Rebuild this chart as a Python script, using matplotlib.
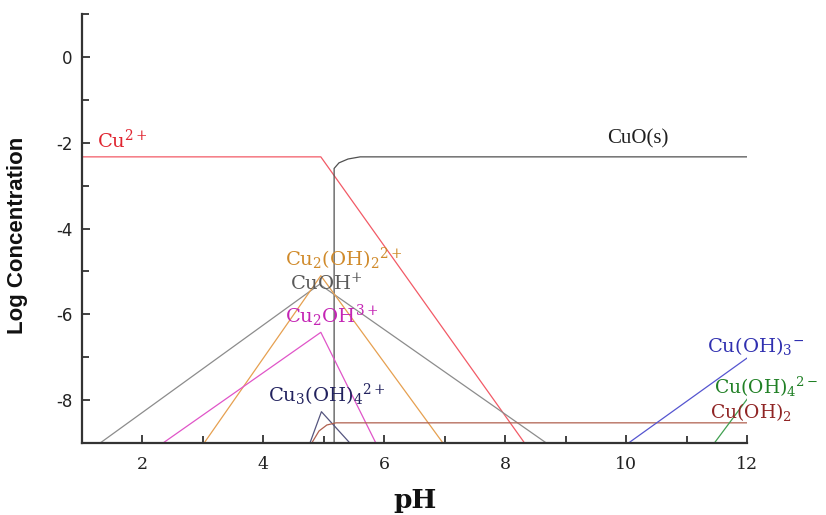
import numpy as np
import matplotlib
matplotlib.use("Agg")
import matplotlib.pyplot as plt
from matplotlib.ticker import MultipleLocator

plt.rcParams["axes.unicode_minus"] = False

# speciation lines, pH break points and log concentration
cu2_ph = [1.0, 4.95, 8.32]
cu2_log = [-2.33, -2.33, -9.0]

cuo_ph = [5.17, 5.17, 5.25, 5.4, 5.6, 12.0]
cuo_log = [-9.0, -2.6, -2.47, -2.38, -2.33, -2.33]

cuoh_ph = [1.3, 4.93, 8.68]
cuoh_log = [-9.0, -5.3, -9.0]

cu2oh2_ph = [3.02, 4.95, 6.97]
cu2oh2_log = [-9.0, -5.1, -9.0]

cu2oh_ph = [2.34, 4.95, 5.86]
cu2oh_log = [-9.0, -6.42, -9.0]

cu3oh4_ph = [4.77, 4.96, 5.43]
cu3oh4_log = [-9.0, -8.27, -9.0]

cuoh2_ph = [4.8, 4.92, 5.05, 5.2, 12.0]
cuoh2_log = [-9.0, -8.72, -8.58, -8.53, -8.53]

cuoh3_ph = [10.04, 12.0]
cuoh3_log = [-9.0, -7.02]

cuoh4_ph = [11.46, 12.0]
cuoh4_log = [-9.0, -7.98]

fig = plt.figure(figsize=(8.26, 5.15), dpi=100)
ax = fig.add_axes([0.0993, 0.1398, 0.8051, 0.833])

lw = 0.9
ax.plot(cu2_ph, cu2_log, color="#f25a66", lw=lw)
ax.plot(cuo_ph, cuo_log, color="#505050", lw=lw)
ax.plot(cuoh_ph, cuoh_log, color="#8c8c8c", lw=lw)
ax.plot(cu2oh2_ph, cu2oh2_log, color="#e6a050", lw=lw)
ax.plot(cu2oh_ph, cu2oh_log, color="#e055c8", lw=lw)
ax.plot(cu3oh4_ph, cu3oh4_log, color="#55557f", lw=lw)
ax.plot(cuoh2_ph, cuoh2_log, color="#b0604f", lw=lw)
ax.plot(cuoh3_ph, cuoh3_log, color="#5555d0", lw=lw)
ax.plot(cuoh4_ph, cuoh4_log, color="#40a050", lw=lw)

# species labels
lab = dict(family="DejaVu Serif", fontsize=14, va="baseline", ha="left")
small = dict(lab, fontsize=13.5)
ax.text(1.25, -2.12, r"$\mathregular{Cu^{2+}}$", color="#e02530", **lab)
ax.text(9.69, -2.02, "CuO(s)", color="#202020", family="Liberation Serif",
        fontsize=15, va="baseline", ha="left")
ax.text(4.36, -4.88, r"$\mathregular{Cu_2(OH)_2{}^{2+}}$", color="#d08a2a", **lab)
ax.text(4.44, -5.42, r"$\mathregular{CuOH^{+}}$", color="#5a5a5a", **lab)
ax.text(4.36, -6.19, r"$\mathregular{Cu_2OH^{3+}}$", color="#c424b4", **lab)
ax.text(4.07, -8.05, r"$\mathregular{Cu_3(OH)_4{}^{2+}}$", color="#22225e", **lab)
ax.text(11.33, -6.88, r"$\mathregular{Cu(OH)_3{}^{-}}$", color="#3030b0", **lab)
ax.text(11.46, -7.86, r"$\mathregular{Cu(OH)_4{}^{2-}}$", color="#208025", **small)
ax.text(11.38, -8.42, r"$\mathregular{Cu(OH)_2}$", color="#902525", **small)

ax.set_xlim(1, 12)
ax.set_ylim(-9, 1)
ax.xaxis.set_major_locator(MultipleLocator(2))
ax.xaxis.set_minor_locator(MultipleLocator(1))
ax.yaxis.set_major_locator(MultipleLocator(2))
ax.yaxis.set_minor_locator(MultipleLocator(1))

for side in ["top", "right"]:
    ax.spines[side].set_visible(False)
for side in ["left", "bottom"]:
    ax.spines[side].set_linewidth(1.6)
    ax.spines[side].set_color("#333333")

ax.tick_params(which="both", direction="in", color="#333333", width=1.3)
ax.tick_params(which="major", length=6)
ax.tick_params(which="minor", length=5)
ax.tick_params(axis="x", which="major", pad=9)
ax.tick_params(axis="y", which="major", pad=7)

for t in ax.get_xticklabels():
    t.set_family("DejaVu Serif")
    t.set_fontsize(12.5)
    t.set_color("#222222")
for t in ax.get_yticklabels():
    t.set_family("DejaVu Sans")
    t.set_fontsize(12)
    t.set_color("#222222")

ax.set_xlabel("pH", family="DejaVu Serif", fontsize=19, fontweight="bold",
              color="#111111")
ax.xaxis.set_label_coords(0.5, -0.105)
ax.set_ylabel("Log Concentration", family="Liberation Sans", fontsize=16,
              fontweight="bold", color="#111111")
ax.yaxis.set_label_coords(-0.081, 0.485)

fig.savefig("out.png", dpi=100)
